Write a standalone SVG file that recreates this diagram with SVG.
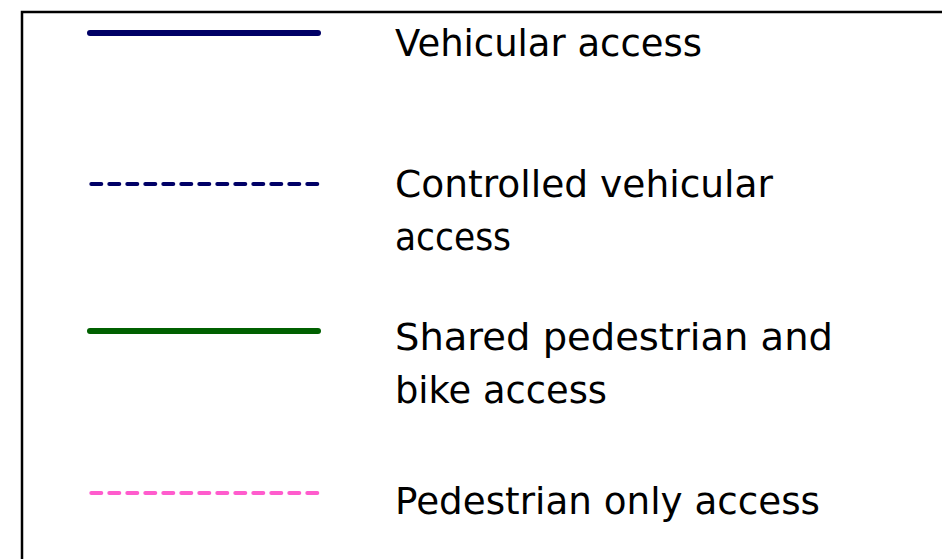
<svg xmlns="http://www.w3.org/2000/svg" width="942" height="559" viewBox="0 0 942 559">
<style>
.lbl{font-family:"DejaVu Sans","Liberation Sans",sans-serif;font-size:38px;fill:#000;}
.ln{fill:none;stroke-linecap:round;}
.solid{stroke-width:6;}
.dash{stroke-width:4;stroke-dasharray:10 8;}
</style>
<rect x="0" y="0" width="942" height="559" fill="#fff"/>
<rect id="frame" x="22" y="12" width="940" height="560" fill="none" stroke="#000" stroke-width="2.5"/>
<g id="connectors">
<path class="ln solid" d="M90,33 H318" stroke="#000066"/>
<path class="ln dash" d="M91.3,184 H318" stroke="#000066"/>
<path class="ln solid" d="M90,331 H318" stroke="#006000"/>
<path class="ln dash" d="M91.3,493 H318" stroke="#ff5ccd"/>
</g>
<g id="vehicular"><text class="lbl" x="395" y="56" textLength="307" lengthAdjust="spacingAndGlyphs">Vehicular access</text></g>
<g id="controlled"><text class="lbl" x="395" y="197" textLength="378" lengthAdjust="spacingAndGlyphs">Controlled vehicular</text><text class="lbl" x="395" y="250" textLength="116" lengthAdjust="spacingAndGlyphs">access</text></g>
<g id="shared"><text class="lbl" x="395" y="350" textLength="438" lengthAdjust="spacingAndGlyphs">Shared pedestrian and</text><text class="lbl" x="395" y="403" textLength="212" lengthAdjust="spacingAndGlyphs">bike access</text></g>
<g id="pedestrian"><text class="lbl" x="395" y="514" textLength="425" lengthAdjust="spacingAndGlyphs">Pedestrian only access</text></g>
</svg>
